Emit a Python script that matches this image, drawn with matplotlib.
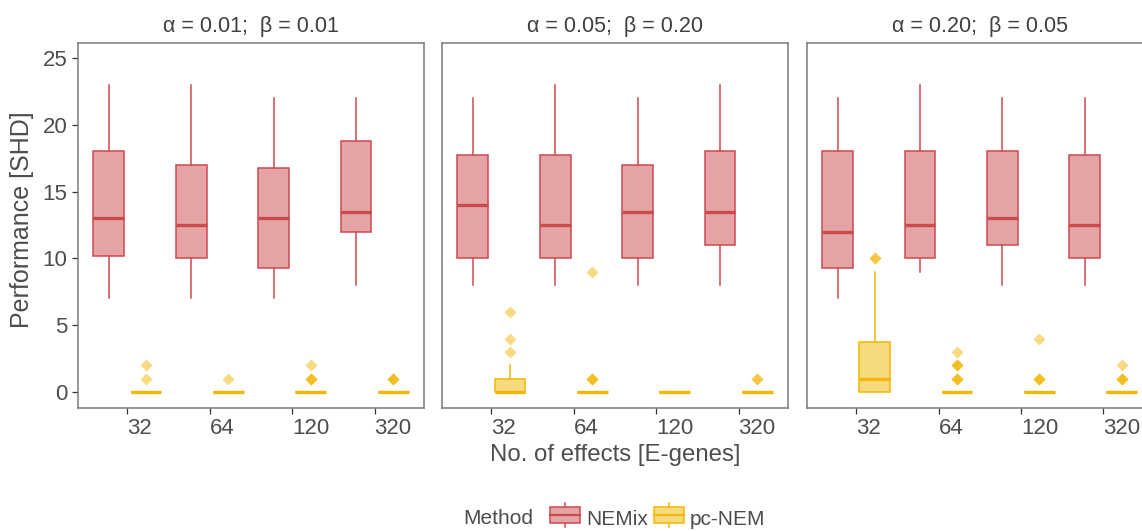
import matplotlib
matplotlib.use("Agg")
import matplotlib.pyplot as plt
from matplotlib.patches import Rectangle
from matplotlib.lines import Line2D
from matplotlib.legend_handler import HandlerBase

plt.rcParams['font.family'] = ['Liberation Sans', 'DejaVu Sans']

# data
groups = ['32', '64', '120', '320']
titles = ['α = 0.01;  β = 0.01', 'α = 0.05;  β = 0.20', 'α = 0.20;  β = 0.05']

nemix_lo = [[7, 7, 7, 8], [8, 8, 8, 8], [7, 9, 8, 8]]
nemix_q1 = [[10.2, 10, 9.25, 12], [10, 10, 10, 11], [9.25, 10, 11, 10]]
nemix_med = [[13, 12.5, 13, 13.5], [14, 12.5, 13.5, 13.5], [12, 12.5, 13, 12.5]]
nemix_q3 = [[18, 17, 16.75, 18.75], [17.75, 17.75, 17, 18], [18, 18, 18, 17.75]]
nemix_hi = [[23, 23, 22, 22], [22, 23, 22, 23], [22, 23, 22, 22]]

pcnem_lo = [[0, 0, 0, 0], [0, 0, 0, 0], [0, 0, 0, 0]]
pcnem_q1 = [[0, 0, 0, 0], [0, 0, 0, 0], [0, 0, 0, 0]]
pcnem_med = [[0, 0, 0, 0], [0, 0, 0, 0], [1, 0, 0, 0]]
pcnem_q3 = [[0, 0, 0, 0], [1, 0, 0, 0], [3.75, 0, 0, 0]]
pcnem_hi = [[0, 0, 0, 0], [2, 0, 0, 0], [9, 0, 0, 0]]
# repeated values = overlapping points (drawn darker)
pcnem_fliers = [
    [[1, 2], [1], [1, 1, 1, 2], [1, 1, 1]],
    [[3, 4, 6], [1, 1, 1, 9], [], [1, 1]],
    [[10, 10], [1, 1, 1, 2, 2, 2, 3], [1, 1, 1, 4], [1, 1, 1, 2]],
]

methods = ['NEMix', 'pc-NEM']
edge_cols = ['#CC4A4E', '#F2B705']
fill_cols = ['#E4A3A5', '#F8DA7E']

W, H = 1142, 531
lefts = [78, 442, 806.7]
text_col = '#4D4D4D'


def stats(lo, q1, med, q3, hi, fl=None):
    return [dict(whislo=lo[i], q1=q1[i], med=med[i], q3=q3[i], whishi=hi[i],
                 fliers=(fl[i] if fl else [])) for i in range(len(lo))]


fig = plt.figure(figsize=(W / 100, H / 100), dpi=100)

for p in range(3):
    ax = fig.add_axes([lefts[p] / W, 1 - 408 / H, 346 / W, 365 / H])
    x = range(1, len(groups) + 1)
    sets = [stats(nemix_lo[p], nemix_q1[p], nemix_med[p], nemix_q3[p], nemix_hi[p]),
            stats(pcnem_lo[p], pcnem_q1[p], pcnem_med[p], pcnem_q3[p], pcnem_hi[p],
                  pcnem_fliers[p])]
    for m, off in enumerate([-0.225, 0.225]):
        ax.bxp(sets[m], positions=[i + off for i in x], widths=0.375,
               patch_artist=True, showcaps=False, showfliers=(m == 1),
               boxprops=dict(facecolor=fill_cols[m], edgecolor=edge_cols[m], linewidth=1.1),
               medianprops=dict(color=edge_cols[m], linewidth=2.4, solid_capstyle='butt'),
               whiskerprops=dict(color=edge_cols[m], linewidth=1.1),
               flierprops=dict(marker='D', markersize=6, markerfacecolor=edge_cols[m],
                               markeredgecolor='none', alpha=0.5, linestyle='none'))
    ax.set_xlim(0.4, 4.6)
    ax.set_ylim(-1.2, 26.12)
    ax.set_xticks(list(x))
    ax.set_xticklabels(groups, ha='left')
    ax.set_yticks([0, 5, 10, 15, 20, 25])
    ax.tick_params(axis='both', length=4, width=0.9, color='#333333',
                   labelcolor=text_col, labelsize=16, pad=3.5)
    if p > 0:
        ax.tick_params(axis='y', left=False, labelleft=False)
    for s in ax.spines.values():
        s.set_color('#7A7A7A')
        s.set_linewidth(1.1)
    ax.set_title(titles[p], fontsize=15.5, color='#404040', pad=8)

fig.text(22 / W, 1 - 220 / H, 'Performance [SHD]', rotation=90, ha='center',
         va='center', fontsize=18, color=text_col)
fig.text(615 / W, 1 - 455 / H, 'No. of effects [E-genes]', ha='center',
         va='center', fontsize=17.3, color=text_col)


class BoxKey(HandlerBase):
    def create_artists(self, legend, orig_handle, xd, yd, width, height, fontsize, trans):
        ec, fc = orig_handle
        cx = xd + width / 2
        r = Rectangle((xd, yd + height * 0.05), width, height * 0.9, facecolor=fc,
                      edgecolor=ec, linewidth=1.1, transform=trans)
        med = Line2D([xd, xd + width], [yd + height / 2] * 2, color=ec, lw=1.6, transform=trans)
        w1 = Line2D([cx, cx], [yd - height * 0.2, yd + height * 0.05], color=ec, lw=1.1, transform=trans)
        w2 = Line2D([cx, cx], [yd + height * 0.95, yd + height * 1.2], color=ec, lw=1.1, transform=trans)
        return [w1, w2, r, med]


handles = [(edge_cols[0], fill_cols[0]), (edge_cols[1], fill_cols[1])]
fig.text(463 / W, 1 - 518 / H, 'Method', ha='left', va='center', fontsize=15, color=text_col)
fig.legend(handles, methods, handler_map={tuple: BoxKey()}, loc='center left',
           bbox_to_anchor=(546 / W, 1 - 519 / H), ncol=2, frameon=False, fontsize=15,
           labelcolor=text_col, handlelength=1.45, handleheight=0.9, handletextpad=0.3,
           columnspacing=0.25, borderaxespad=0, borderpad=0.2)

fig.savefig('out.png', dpi=100)
